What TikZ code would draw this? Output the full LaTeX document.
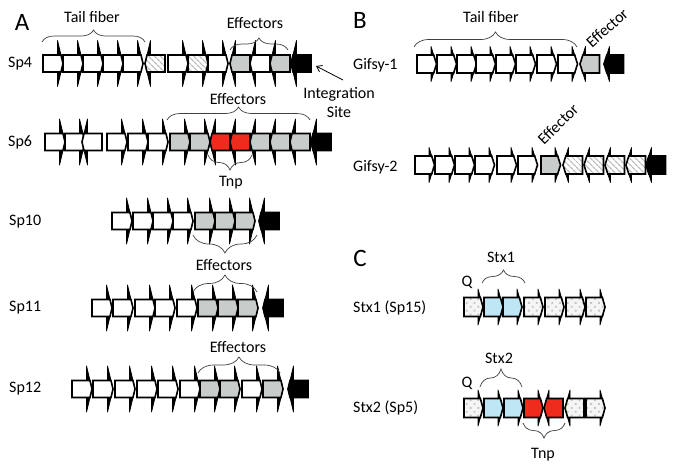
\documentclass[tikz,border=0pt]{standalone}
\usepackage{fontspec}
\setmainfont{Carlito}
\usetikzlibrary{decorations.pathreplacing,patterns.meta,arrows.meta}
\definecolor{effgray}{HTML}{C8CDCC}
\definecolor{tnpred}{HTML}{EE2B1C}
\definecolor{stxblue}{HTML}{BEE6F5}
\tikzset{
 gline/.style={draw=black,line width=1.6pt,line join=miter},
 spike/.style={fill=black,draw=black,line width=0.8pt,line join=round},
 wht/.style={fill=white},
 gry/.style={fill=effgray},
 tnp/.style={fill=tnpred},
 blu/.style={fill=stxblue},
 blk/.style={fill=black},
 hatch/.style={preaction={fill=white},pattern={Lines[angle=-45,distance=4pt,line width=1.3pt]},pattern color=gray!55},
 dotf/.style={preaction={fill=gray!8},pattern={Dots[radius=1.3pt,distance=5.5pt,angle=45]},pattern color=gray!45},
 lab/.style={font=\fontsize{16}{19}\selectfont, inner sep=0pt},
 big/.style={font=\fontsize{25}{28}\selectfont, inner sep=0pt},
 brc/.style={decorate,decoration={brace,amplitude=#1},draw=black!75,line width=0.7pt},
 brcm/.style={decorate,decoration={brace,mirror,amplitude=#1},draw=black!75,line width=0.7pt},
}
\newcommand\setgene[4]{\def\gb{#1}\def\gt{#2}\def\gh{#3}\def\gH{#4}}
\newcommand\gR[3]{%
 \filldraw[spike] ({#1},{#2-\gh}) -- ({#1+\gb},{#2-\gh}) -- ({#1+\gb},{#2-\gH}) -- ({#1+\gb+\gt},{#2}) -- ({#1+\gb},{#2+\gH}) -- ({#1+\gb},{#2+\gh}) -- ({#1},{#2+\gh}) -- cycle;
 \path[#3,gline] ({#1},{#2-\gh}) -- ({#1+\gb+\gt*(1-\gh/\gH)},{#2-\gh}) -- ({#1+\gb+\gt},{#2}) -- ({#1+\gb+\gt*(1-\gh/\gH)},{#2+\gh}) -- ({#1},{#2+\gh}) -- cycle;}
\newcommand\gL[3]{%
 \filldraw[spike] ({#1+\gt+\gb},{#2-\gh}) -- ({#1+\gt},{#2-\gh}) -- ({#1+\gt},{#2-\gH}) -- ({#1},{#2}) -- ({#1+\gt},{#2+\gH}) -- ({#1+\gt},{#2+\gh}) -- ({#1+\gt+\gb},{#2+\gh}) -- cycle;
 \path[#3,gline] ({#1+\gt+\gb},{#2-\gh}) -- ({#1+\gt*\gh/\gH},{#2-\gh}) -- ({#1},{#2}) -- ({#1+\gt*\gh/\gH},{#2+\gh}) -- ({#1+\gt+\gb},{#2+\gh}) -- cycle;}
\begin{document}
\begin{tikzpicture}[x=1pt,y=-1pt]
\fill[white] (0,0) rectangle (674,474);
\useasboundingbox (0,0) rectangle (674,474);

% ---------------- Panel A ----------------
\setgene{14.5}{5.5}{8.5}{23}
\node[big] (pA) at (22,22) {A};
% Sp4
\node[lab,anchor=west] (sp4) at (8,63.5) {Sp4};
\foreach \x in {43,63,83,103,123} {\gR{\x}{63.5}{wht}}
\gL{145}{63.5}{hatch}
\gR{168}{63.5}{wht}
\gR{188}{63.5}{hatch}
\gR{208}{63.5}{wht}
\gL{230}{63.5}{gry}
\gL{250}{63.5}{wht}
\gL{270}{63.5}{gry}
\gL{291}{63.5}{blk}
\node[lab] (tfA) at (92,17) {Tail fiber};
\draw[brc=12] (42,42) -- (145,42);
\node[lab] (ef4) at (255,23) {Effectors};
\draw[brc=12] (230,50) -- (288,50);
\node[lab] (intA) at (339,94) {Integration};
\node[lab] (intB) at (339,112) {Site};
\coordinate (intT) at (343,80);
\coordinate (intH) at (316,66);
\draw[line width=0.8pt,-{Straight Barb[length=5pt,width=7pt]}] (intT) -- (intH);

% Sp6
\node[lab,anchor=west] (sp6) at (8,142) {Sp6};
\gR{45}{142}{wht}
\gR{65}{142}{wht}
\gL{82}{142}{wht}
\foreach \x in {107,128,148} {\gR{\x}{142}{wht}}
\gR{170}{142}{gry}
\gR{190}{142}{gry}
\gL{210}{142}{tnp}
\gL{230}{142}{tnp}
\foreach \x in {250,270,290} {\gL{\x}{142}{gry}}
\gL{311}{142}{blk}
\node[lab] (ef6) at (238,99) {Effectors};
\draw[brc=13] (167,120) -- (310,120);
\draw[brcm=15] (208,155) -- (252,155);
\node[lab] (tnp6) at (231,183) {Tnp};

% Sp10
\node[lab,anchor=west] (sp10) at (9,222) {Sp10};
\foreach \x in {112,133,153,173} {\gR{\x}{221}{wht}}
\foreach \x in {195,215,235} {\gR{\x}{221}{gry}}
\gL{259}{221}{blk}
\draw[brcm=18] (193,235) -- (257,235);
\node[lab] (ef10) at (224,265) {Effectors};

% Sp11
\node[lab,anchor=west] (sp11) at (9,308) {Sp11};
\foreach \x in {92,113,135,155,177} {\gR{\x}{308}{wht}}
\foreach \x in {198,218,238} {\gR{\x}{308}{gry}}
\gL{263}{308}{blk}
\draw[brc=17] (193,292) -- (257,292);

% Sp12
\node[lab,anchor=west] (sp12) at (9,389) {Sp12};
\foreach \x in {72,93,115,137,158,180} {\gR{\x}{389}{wht}}
\gR{200}{389}{gry}
\gR{220}{389}{gry}
\gR{242}{389}{wht}
\gR{263}{389}{gry}
\gL{288}{389}{blk}
\node[lab] (ef12) at (238,347) {Effectors};
\draw[brc=16] (198,373) -- (280,373);

% ---------------- Panel B ----------------
\setgene{14}{5.5}{9}{17.5}
\node[big] (pB) at (360,20) {B};
\node[lab,anchor=west] (g1) at (353,65) {Gifsy-1};
\foreach \x in {417,437,457,476,496,516,537,558} {\gR{\x}{64}{wht}}
\gL{580}{64}{gry}
\gL{604}{64}{blk}
\node[lab] (tfB) at (491,17) {Tail fiber};
\draw[brc=15] (414,47) -- (577,47);
\node[lab,rotate=42] (efB1) at (607,28) {Effector};

\node[lab,anchor=west] (g2) at (353,167) {Gifsy-2};
\foreach \x in {415,435,455,475,497,518} {\gR{\x}{165}{wht}}
\gR{541}{165}{gry}
\foreach \x in {563,584,605,626} {\gL{\x}{165}{hatch}}
\gL{646}{165}{blk}
\node[lab,rotate=45] (efB2) at (558,124) {Effector};

% ---------------- Panel C ----------------
\setgene{14}{5}{9.5}{18}
\node[big] (pC) at (360,258) {C};
\node[lab,anchor=west] (s1) at (353,308) {Stx1 (Sp15)};
\gR{464}{307}{dotf}
\gR{484}{307}{blu}
\gR{503}{307}{blu}
\foreach \x in {524,545,566,586} {\gR{\x}{307}{dotf}}
\node[lab] (stx1) at (501,257) {Stx1};
\draw[brc=13] (482,283) -- (525,283);
\node[lab] (q1) at (467,282) {Q};

\node[lab,anchor=west] (s2) at (353,408) {Stx2 (Sp5)};
\gR{464}{408}{dotf}
\gR{484}{408}{blu}
\gR{504}{408}{blu}
\gR{524}{408}{tnp}
\gL{544}{408}{tnp}
\gL{565}{408}{dotf}
\gR{586}{408}{dotf}
\node[lab] (stx2) at (499,358) {Stx2};
\draw[brc=18] (480,387) -- (522,387);
\node[lab] (q2) at (467,383) {Q};
\draw[brcm=15] (523,423) -- (565,423);
\node[lab] (tnpC) at (543,455) {Tnp};
\end{tikzpicture}
\end{document}
